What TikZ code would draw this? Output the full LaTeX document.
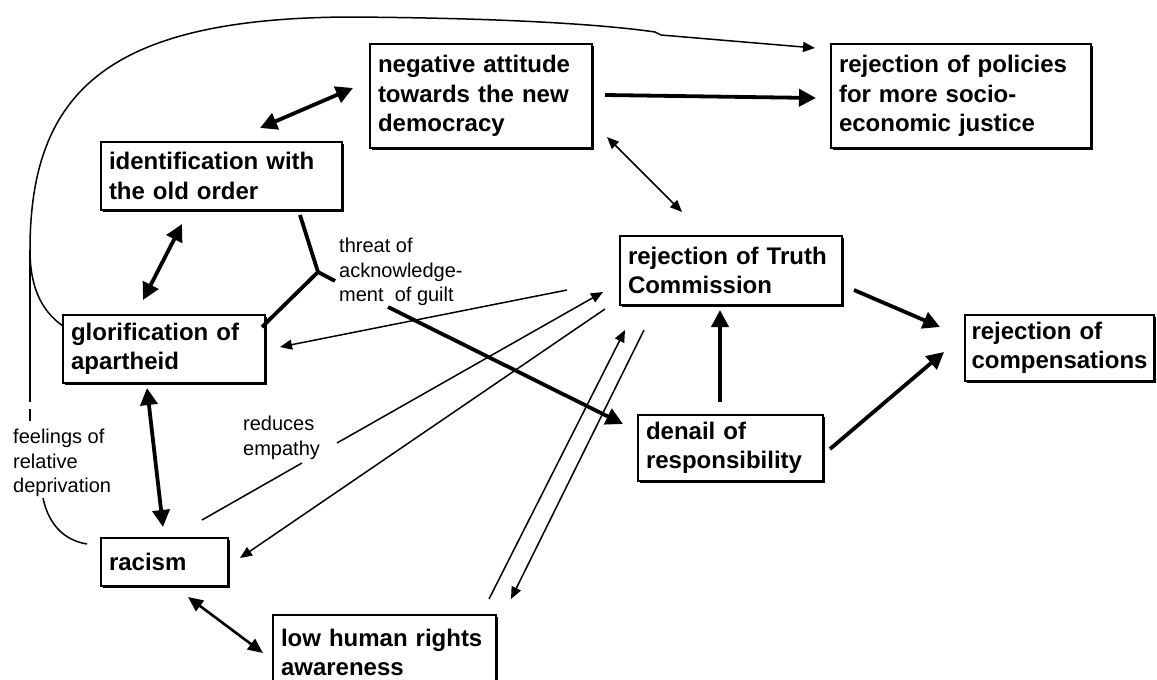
\documentclass[tikz,border=0pt]{standalone}
\usepackage{fontspec}
\setmainfont{Liberation Sans}
\usetikzlibrary{arrows.meta,shadows}
\tikzset{
  box/.style={draw, line width=1.5pt, fill=white, inner xsep=8pt, inner ysep=0pt,
    outer sep=0pt, align=left, anchor=north west,
    font=\bfseries\fontsize{24}{29.5}\selectfont,
    drop shadow={shadow xshift=2pt, shadow yshift=-2pt, opacity=1, fill=black}},
  lbl/.style={inner sep=0pt, anchor=north west, align=left,
    font=\fontsize{20}{24.5}\selectfont},
  heavyline/.style={line width=3.8pt},
  heavy/.style={line width=3.8pt, -{Triangle[length=17pt,width=17pt]}},
  heavyboth/.style={line width=3.8pt, {Triangle[length=17pt,width=17pt]}-{Triangle[length=17pt,width=17pt]}},
  midboth/.style={line width=2.6pt, {Triangle[length=15pt,width=13pt]}-{Triangle[length=15pt,width=13pt]}},
  lightline/.style={line width=1.5pt},
  light/.style={line width=1.5pt, -{Triangle[length=12pt,width=10pt]}},
  lightboth/.style={line width=1.5pt, {Triangle[length=12pt,width=10pt]}-{Triangle[length=12pt,width=10pt]}}
}
\begin{document}
\begin{tikzpicture}[x=1pt,y=-1pt]
\useasboundingbox (0,0) rectangle (1157,680);
\clip (0,0) rectangle (1157,680);

% boxes
\node[box, minimum width=222pt, minimum height=104pt, text width=206pt] (neg) at (370,44) {negative attitude\\towards the new\\democracy};
\node[box, minimum width=260pt, minimum height=104pt, text width=244pt] (pol) at (831,44) {rejection of policies\\for more socio-\\economic justice};
\node[box, minimum width=241pt, minimum height=68pt, text width=225pt] (ident) at (101,142) {identification with\\the old order};
\node[box, minimum width=202pt, minimum height=68pt, text width=186pt] (glor) at (63,315) {glorification of\\apartheid};
\node[box, minimum width=222pt, minimum height=69pt, text width=206pt] (truth) at (620,236) {rejection of Truth\\Commission};
\node[box, minimum width=189pt, minimum height=66pt, text width=176pt, inner xsep=6.5pt] (comp) at (965,315) {rejection of\\compensations};
\node[box, minimum width=185pt, minimum height=66pt, text width=169pt] (denail) at (638,415) {denail of\\responsibility};
\node[box, minimum width=127pt, minimum height=48pt, text width=111pt] (racism) at (101,538) {racism};
\node[box, minimum width=223pt, minimum height=75pt, text width=207pt] (low) at (273,615) {low human rights\\awareness};

% labels
\node[lbl] (threat) at (339,238) {threat of\\acknowledge-\\ment\ \ of guilt};
\node[lbl] (empathy) at (243,416) {reduces\\empathy};
\node[lbl] (feel) at (13,429) {feelings of\\relative\\deprivation};

% connector end points
\coordinate (identNE) at (260,128);
\coordinate (negW) at (353,88);
\coordinate (negE) at (605,95);
\coordinate (polW) at (816,98);
\coordinate (negSE) at (607,137);
\coordinate (truthNW) at (682,212);
\coordinate (identS) at (182,224);
\coordinate (glorN) at (143,300);
\coordinate (glorS) at (147,388);
\coordinate (racismN) at (163,527);
\coordinate (racismSE) at (188,597);
\coordinate (lowW) at (263,653);
\coordinate (truthW1) at (567,290);
\coordinate (glorE) at (280,347);
\coordinate (racismNE) at (202,520);
\coordinate (gapA) at (302,463);
\coordinate (gapB) at (337,443);
\coordinate (truthW2) at (603,292);
\coordinate (truthW3) at (605,309);
\coordinate (racismE) at (240,558);
\coordinate (lowN1) at (489,599);
\coordinate (truthS1) at (625,330);
\coordinate (truthS2) at (644,330);
\coordinate (lowN2) at (511,599);
\coordinate (denailN) at (720,402);
\coordinate (truthS3) at (720,310);
\coordinate (truthE) at (854,290);
\coordinate (compW1) at (940,327);
\coordinate (denailE) at (830,449);
\coordinate (compW2) at (944,352);
\coordinate (identSE) at (300,215);
\coordinate (junc) at (318,272);
\coordinate (glorNE) at (262,327);
\coordinate (threatA) at (335,281);
\coordinate (threatB) at (388,307);
\coordinate (denailW) at (623,424);
\coordinate (glorW) at (63,326);
\coordinate (branch) at (30,250);
\coordinate (polNW) at (815,48);
\coordinate (vEnd) at (30,402);
\coordinate (dashA) at (30,409);
\coordinate (dashB) at (30,421);
\coordinate (feelS) at (43,498);
\coordinate (racismW) at (87,544);

% connectors
\draw[heavyboth] (identNE) -- (negW);
\draw[heavy] (negE) -- (polW);
\draw[lightboth] (negSE) -- (truthNW);
\draw[heavyboth] (identS) -- (glorN);
\draw[heavyboth] (glorS) -- (racismN);
\draw[midboth] (racismSE) -- (lowW);
\draw[light] (truthW1) -- (glorE);
\draw[lightline] (racismNE) -- (gapA);
\draw[light] (gapB) -- (truthW2);
\draw[light] (truthW3) -- (racismE);
\draw[light] (lowN1) -- (truthS1);
\draw[light] (truthS2) -- (lowN2);
\draw[heavy] (denailN) -- (truthS3);
\draw[heavy] (truthE) -- (compW1);
\draw[heavy] (denailE) -- (compW2);

% threat of acknowledgement of guilt
\draw[heavyline, line join=round] (identSE) -- (junc) -- (threatA);
\draw[heavyline] (glorNE) -- (junc);
\draw[heavy] (threatB) -- (denailW);

% long curve to rejection of policies
\draw[light] (glorW) .. controls (40,310) and (30,285) .. (branch)
  .. controls (30,90) and (110,18) .. (350,17)
  .. controls (500,18) and (600,24) .. (655,32) -- (661,35) -- (polNW);
\draw[lightline] (branch) -- (vEnd);
\draw[lightline] (dashA) -- (dashB);
\draw[lightline] (feelS) .. controls (48,522) and (62,540) .. (racismW);
\end{tikzpicture}
\end{document}
